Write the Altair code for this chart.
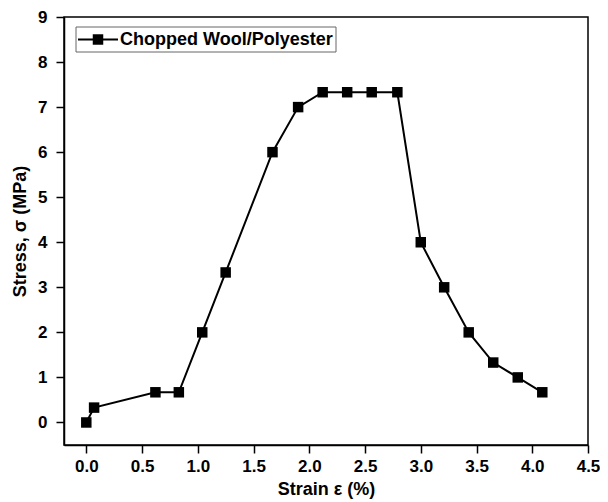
import altair as alt
import pandas as pd

strain = [0.0, 0.07, 0.62, 0.83, 1.04, 1.25, 1.67, 1.90, 2.12, 2.34, 2.56, 2.79,
          3.00, 3.21, 3.43, 3.65, 3.87, 4.09]
stress = [0.0, 0.33, 0.67, 0.67, 2.0, 3.33, 6.0, 7.0, 7.33, 7.33, 7.33, 7.33,
          4.0, 3.0, 2.0, 1.33, 1.0, 0.67]
series_name = "Chopped Wool/Polyester"
x_ticks = [i * 0.25 for i in range(0, 19)]
y_ticks = [i * 0.5 for i in range(0, 19)]

df = pd.DataFrame({"strain": strain, "stress": stress})
one = pd.DataFrame({"k": [0]})

FONT = "Liberation Sans"

xscale = alt.Scale(domain=[-0.2, 4.5], nice=False, zero=False)
yscale = alt.Scale(domain=[-0.5, 9], nice=False, zero=False)

xaxis = alt.Axis(
    values=x_ticks,
    labelExpr="round(datum.value*4) % 2 == 0 ? format(datum.value, '.1f') : ''",
    tickSize={"condition": {"test": "round(datum.value*4) % 2 == 0", "value": 8}, "value": 4},
    labelOverlap=False,
    labelFlush=False,
    labelPadding=5,
    title="Strain ε (%)",
    titlePadding=6,
    grid=False,
)
yaxis = alt.Axis(
    values=y_ticks,
    labelExpr="round(datum.value*2) % 2 == 0 ? format(datum.value, 'd') : ''",
    tickSize={"condition": {"test": "round(datum.value*2) % 2 == 0", "value": 8}, "value": 4},
    labelOverlap=False,
    labelFlush=False,
    labelPadding=9,
    title="Stress, σ (MPa)",
    titlePadding=8,
    grid=False,
)

base = alt.Chart(df)
line = base.mark_line(color="black", strokeWidth=2).encode(
    x=alt.X("strain:Q", scale=xscale, axis=xaxis),
    y=alt.Y("stress:Q", scale=yscale, axis=yaxis),
)
pts = base.mark_point(shape="square", filled=True, color="black", size=110, opacity=1).encode(
    x=alt.X("strain:Q", scale=xscale),
    y=alt.Y("stress:Q", scale=yscale),
)

lg = alt.Chart(one)
box = lg.mark_rect(fill="white", stroke="#666666", strokeWidth=1).encode(
    x=alt.value(12), x2=alt.value(272), y=alt.value(10), y2=alt.value(35)
)
lgline = lg.mark_rule(color="black", strokeWidth=2).encode(
    x=alt.value(14), x2=alt.value(54), y=alt.value(22.5)
)
lgpt = lg.mark_point(shape="square", filled=True, color="black", size=110, opacity=1).encode(
    x=alt.value(34), y=alt.value(22.5)
)
lgtext = lg.mark_text(align="left", baseline="middle", font=FONT, fontSize=18,
                      fontWeight="bold", color="black").encode(
    x=alt.value(56), y=alt.value(23), text=alt.value(series_name)
)

chart = alt.layer(line, pts, box, lgline, lgpt, lgtext).properties(
    width=524, height=428,
    autosize=alt.AutoSizeParams(type="none"),
    padding={"left": 56, "top": 9, "right": 12, "bottom": 57},
).configure_view(
    stroke="black", strokeWidth=1.5
).configure_axis(
    domainColor="black", domainWidth=1.5, tickColor="black", tickWidth=1.5,
    labelFont=FONT, labelFontSize=17, labelFontWeight="bold", labelColor="black",
    titleFont=FONT, titleFontSize=18, titleFontWeight="bold", titleColor="black",
)

chart.save("out.html", embed_options={"renderer": "svg", "actions": False})
